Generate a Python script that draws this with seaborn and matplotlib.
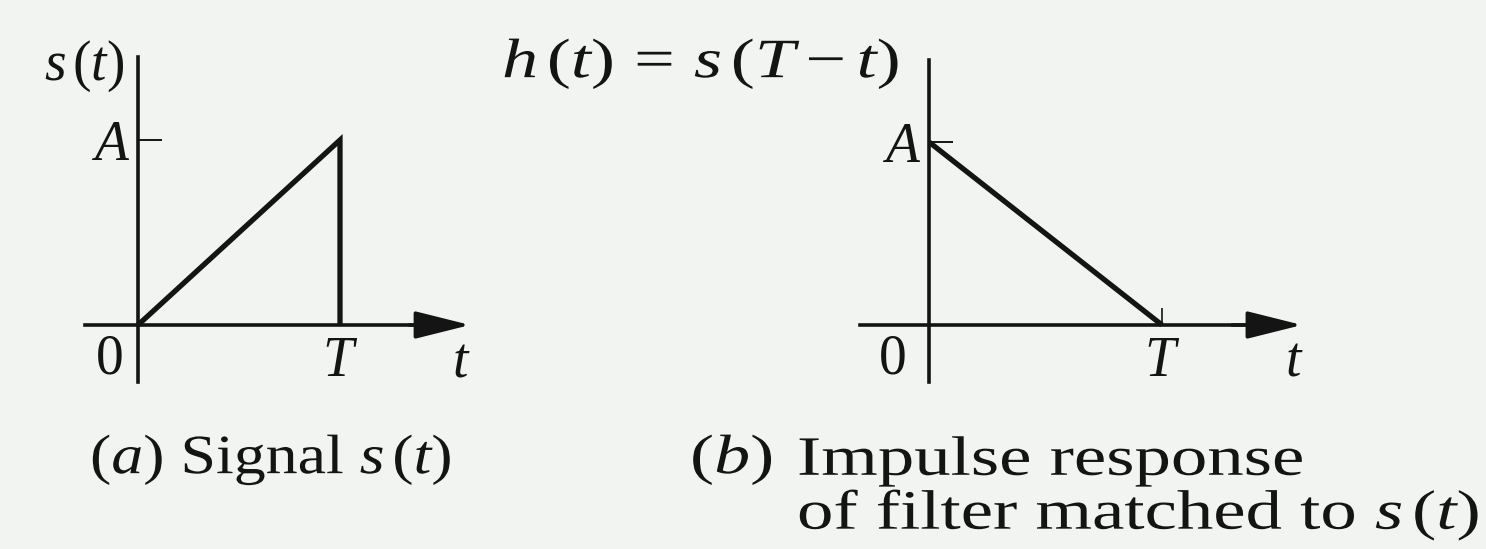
import matplotlib
matplotlib.use("Agg")
import matplotlib.pyplot as plt
import seaborn as sns
from matplotlib.patheffects import AbstractPathEffect
from matplotlib.transforms import Affine2D

# Ramp pulse s(t) on [0, T] and the matched filter h(t) = s(T - t)
T = 1.0
A = 1.0
t_signal = [0.0, T, T]
s_signal = [0.0, A, 0.0]
t_filter = [0.0, T]
h_filter = [A, 0.0]

x_tick_labels = ["$T$"]
y_tick_labels = ["$A$"]
origin_label = "0"
axis_var = "$t$"
ylabel_a = r"$s\,(t)$"
ylabel_b = r"$h\,(t)\,=\,s\,(T - t)$"
caption_a = r"($a$) Signal $s\,(t)$"
caption_b_tag = "($b$)"
caption_b_text = r"Impulse response" "\n" r"of filter matched to $s\,(t)$"

sns.set_theme(style="white")
plt.rcParams["font.family"] = ["Liberation Serif", "DejaVu Serif"]
plt.rcParams["mathtext.fontset"] = "custom"
plt.rcParams["mathtext.rm"] = "Liberation Serif"
plt.rcParams["mathtext.it"] = "Liberation Serif:italic"
plt.rcParams["mathtext.bf"] = "Liberation Serif:bold"

BG = "#f2f4f1"
INK = "#141414"
FS = 40
AXIS_LW = 2.6
SIG_LW = 3.8

W, H = 1486, 549
fig = plt.figure(figsize=(W / 100, H / 100), dpi=100)
fig.patch.set_facecolor(BG)


class HStretch(AbstractPathEffect):
    """Widen glyphs horizontally about the start of each text line."""

    def __init__(self, factor):
        super().__init__()
        self.factor = factor

    def draw_path(self, renderer, gc, tpath, affine, rgbFace=None):
        m = affine.get_matrix()
        x0 = m[0, 2]
        stretch = Affine2D().translate(-x0, 0).scale(self.factor, 1).translate(x0, 0)
        renderer.draw_path(gc, tpath, Affine2D(stretch.get_matrix() @ m), rgbFace)


def make_axes(x0, xT, y0, yA, xlim, ylim):
    """Axes whose data origin / (T, A) land on the given pixel positions."""
    sx = (xT - x0) / T
    sy = (y0 - yA) / A
    left = x0 + xlim[0] * sx
    right = x0 + xlim[1] * sx
    top = y0 - ylim[1] * sy
    bottom = y0 - ylim[0] * sy
    ax = fig.add_axes([left / W, 1 - bottom / H, (right - left) / W, (bottom - top) / H])
    ax.set_xlim(xlim)
    ax.set_ylim(ylim)
    ax.patch.set_alpha(0)
    return ax


def style_axes(ax, xspan, yspan, xtick_len):
    for side in ("top", "right"):
        ax.spines[side].set_visible(False)
    for side in ("left", "bottom"):
        ax.spines[side].set_position(("data", 0))
        ax.spines[side].set_color(INK)
        ax.spines[side].set_linewidth(AXIS_LW)
    ax.spines["left"].set_bounds(*yspan)
    ax.spines["bottom"].set_bounds(xspan[0], xspan[1] - 0.1)
    # arrow head on the time axis
    ax.annotate("", xy=(xspan[1], 0), xytext=(xspan[1] - 0.3, 0),
                arrowprops=dict(arrowstyle="-|>,head_length=3.4,head_width=0.85",
                                mutation_scale=10, color=INK, lw=AXIS_LW,
                                shrinkA=0, shrinkB=0))
    ax.set_xticks([T], x_tick_labels)
    ax.set_yticks([A], y_tick_labels)
    ax.tick_params(axis="y", direction="in", length=17, width=1.4, color=INK,
                   labelsize=FS, labelcolor=INK, pad=6, left=True)
    ax.tick_params(axis="x", direction="in", length=xtick_len, width=1.2, color=INK,
                   labelsize=FS, labelcolor=INK, pad=8, bottom=True)
    ax.grid(False)


# (a) signal
ax_a = make_axes(138, 340, 325, 140, (-0.45, 1.80), (-0.45, 1.60))
style_axes(ax_a, (-0.262, 1.644), (-0.308, 1.449), 0)
sns.lineplot(x=t_signal, y=s_signal, ax=ax_a, sort=False, estimator=None,
             color=INK, linewidth=SIG_LW)
ax_a.text(-0.139, -0.184, origin_label, fontsize=FS, color=INK, ha="center", va="center")
ax_a.text(1.599, -0.20, axis_var, fontsize=FS, color=INK, ha="center", va="center")
ax_a.text(-0.07, 1.40, ylabel_a, fontsize=FS, color=INK, ha="right", va="center")

# (b) matched-filter impulse response
ax_b = make_axes(929, 1162, 325, 142, (-0.45, 1.75), (-0.45, 1.60))
style_axes(ax_b, (-0.296, 1.601), (-0.311, 1.448), 12)
sns.lineplot(x=t_filter, y=h_filter, ax=ax_b, sort=False, estimator=None,
             color=INK, linewidth=SIG_LW)
ax_b.text(-0.155, -0.19, origin_label, fontsize=FS, color=INK, ha="center", va="center")
ax_b.text(1.567, -0.20, axis_var, fontsize=FS, color=INK, ha="center", va="center")
fig.text(502 / W, 1 - 64 / H, ylabel_b, fontsize=FS, color=INK, ha="left", va="center",
         path_effects=[HStretch(1.3)])

for ax in (ax_a, ax_b):
    for line in ax.get_lines():
        line.set_solid_joinstyle("miter")
        line.set_solid_capstyle("butt")

# captions
fig.text(90 / W, 1 - 460 / H, caption_a, fontsize=FS, color=INK, ha="left", va="center",
         path_effects=[HStretch(1.15)])
fig.text(690 / W, 1 - 460 / H, caption_b_tag, fontsize=FS, color=INK, ha="left",
         va="center", path_effects=[HStretch(1.3)])
fig.text(797 / W, 1 - 489 / H, caption_b_text, fontsize=FS, color=INK, ha="left",
         va="center", linespacing=1.0, path_effects=[HStretch(1.31)])

fig.savefig("out.png", dpi=100, facecolor=BG)
